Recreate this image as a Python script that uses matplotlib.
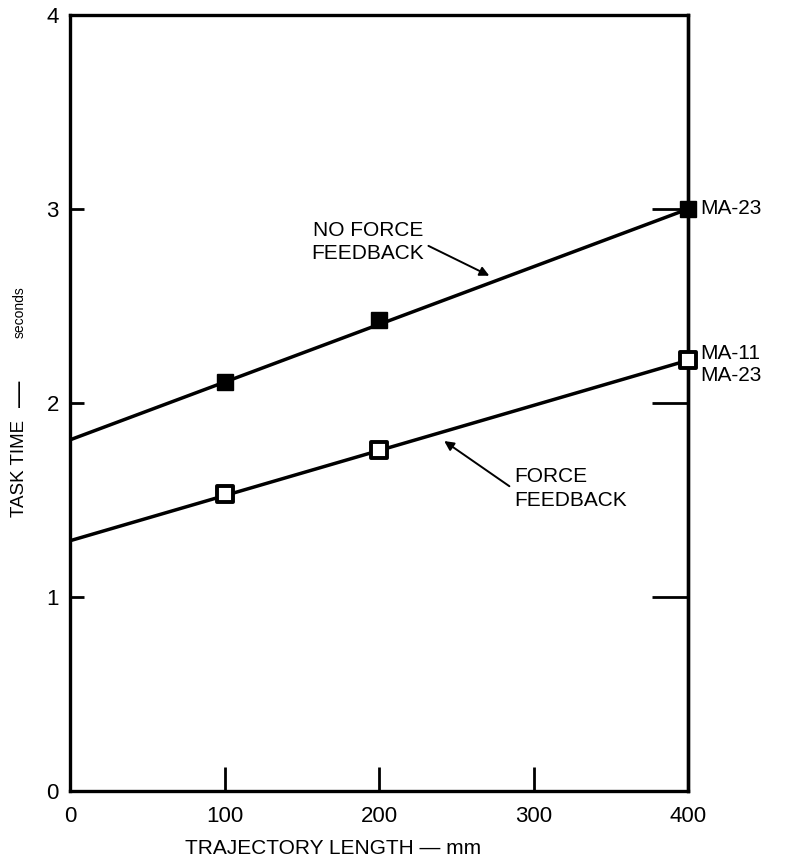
import matplotlib
matplotlib.use("Agg")
import matplotlib.pyplot as plt
from matplotlib.markers import MarkerStyle

plt.rcParams['font.family'] = ['Liberation Sans', 'DejaVu Sans']

# Measured task times (seconds) versus trajectory length (mm)
traj_len = [100, 200, 400]
no_ff_time = [2.11, 2.43, 3.00]
ff_time = [1.53, 1.76, 2.22]

# Fitted straight lines, given at the ends of the x range
fit_x = [0, 400]
no_ff_fit = [1.81, 3.00]
ff_fit = [1.29, 2.22]

x_ticks = [0, 100, 200, 300, 400]
y_ticks = [0, 1, 2, 3, 4]

fig = plt.figure(figsize=(7.88, 8.58), dpi=100)
ax = fig.add_axes([70 / 788, 67 / 858, 618 / 788, 776 / 858])

ax.plot(fit_x, no_ff_fit, color='black', lw=2.5, solid_capstyle='butt', zorder=2)
ax.plot(fit_x, ff_fit, color='black', lw=2.5, solid_capstyle='butt', zorder=2)
ax.plot(traj_len, no_ff_time, ls='none', marker='s', ms=12, mfc='black',
        mec='black', zorder=3, clip_on=False)
ax.plot(traj_len, ff_time, ls='none',
        marker=MarkerStyle('s', joinstyle='round'), ms=11, mfc='white',
        mec='black', mew=2.8, zorder=3, clip_on=False)

ax.set_xlim(0, 400)
ax.set_ylim(0, 4)
ax.set_xticks(x_ticks)
ax.set_yticks(y_ticks)
for s in ax.spines.values():
    s.set_linewidth(2.4)

ax.tick_params(axis='x', direction='in', length=17, width=2, pad=11,
               labelsize=16, top=False)
ax.tick_params(axis='y', direction='in', length=10, width=2, pad=8,
               labelsize=16, right=False)

# Longer inward ticks on the right-hand axis
sec = ax.secondary_yaxis('right')
sec.set_yticks(y_ticks[1:-1])
sec.tick_params(direction='in', length=26, width=2, labelright=False)
sec.spines['right'].set_linewidth(2.4)

ax.set_xlabel('TRAJECTORY LENGTH — mm', fontsize=15)
ax.xaxis.set_label_coords(0.425, -0.062)

# Vertical axis title: upper-case words, a long rule, then the unit
fig.text(20 / 788, 1 - 468 / 858, 'TASK TIME', rotation=90, fontsize=13.5,
         ha='center', va='center')
fig.text(20 / 788, 1 - 394 / 858, '—', rotation=90, fontsize=19,
         ha='center', va='center')
fig.text(20 / 788, 1 - 312 / 858, 'seconds', rotation=90, fontsize=10,
         ha='center', va='center')

# Curve labels with pointer arrows
ax.text(229, 2.83, 'NO FORCE\nFEEDBACK', fontsize=15, ha='right', va='center',
        linespacing=1.3)
ax.annotate('', xy=(271.4, 2.656), xytext=(232, 2.81),
            arrowprops=dict(arrowstyle='-|>', color='black', lw=1.4,
                            mutation_scale=14, shrinkA=0, shrinkB=0))
ax.text(287.7, 1.56, 'FORCE\nFEEDBACK', fontsize=15, ha='left', va='center',
        linespacing=1.3)
ax.annotate('', xy=(242.2, 1.804), xytext=(284.4, 1.571),
            arrowprops=dict(arrowstyle='-|>', color='black', lw=1.4,
                            mutation_scale=14, shrinkA=0, shrinkB=0))

ax.text(408, 3.0, 'MA-23', fontsize=15, ha='left', va='center')
ax.text(408, 2.20, 'MA-11\nMA-23', fontsize=15, ha='left', va='center',
        linespacing=1.2)

fig.savefig('out.png', dpi=100)
